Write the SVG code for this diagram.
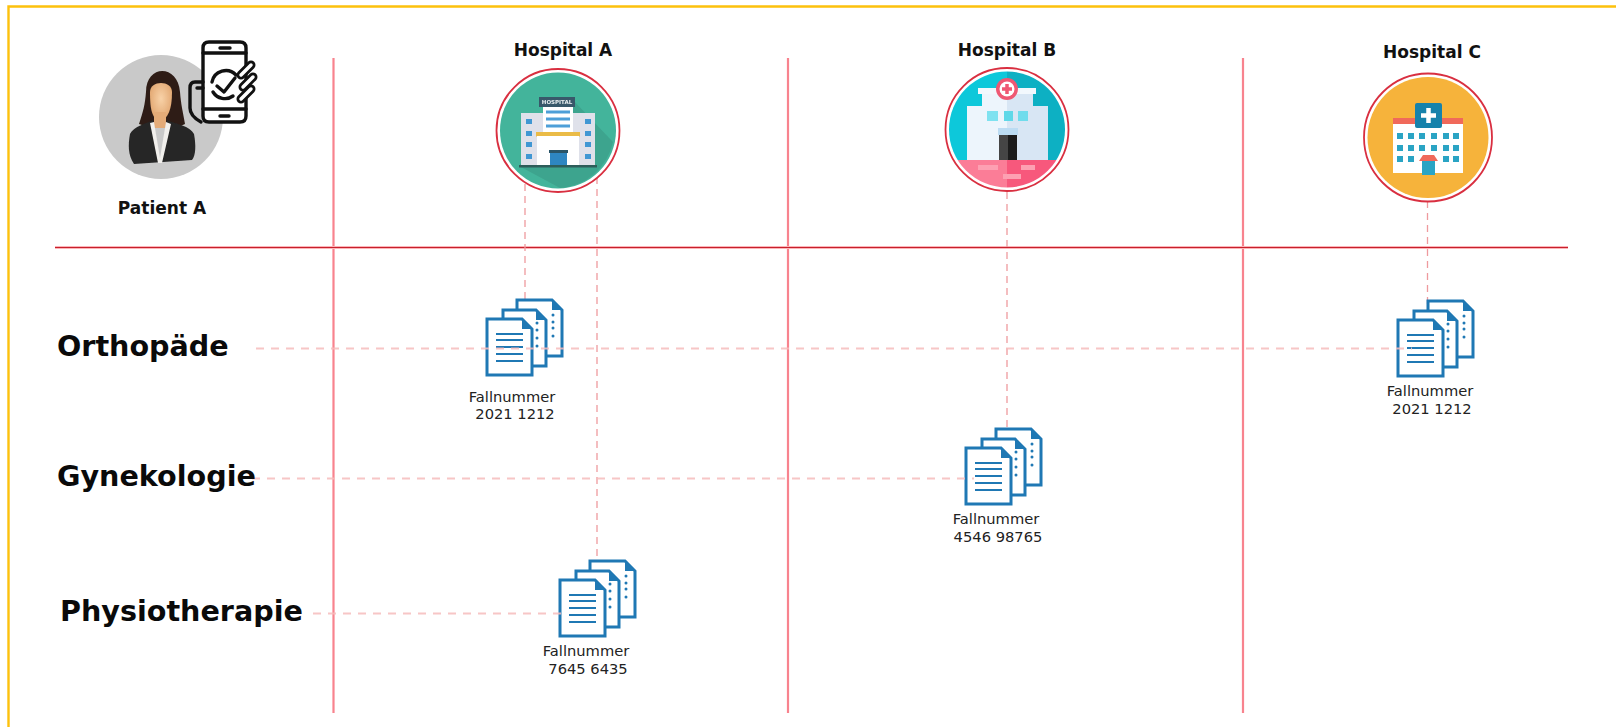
<svg xmlns="http://www.w3.org/2000/svg" width="1616" height="727" viewBox="0 0 1616 727">
<style>
.grid{stroke:#f8838e;stroke-width:2.200;fill:none}
.halo{stroke:#fbb4b8;stroke-width:3;fill:none}
.hgrid{stroke:#c8202c;stroke-width:1.2;fill:none}
.dash{stroke:#f6bcbc;stroke-width:2;stroke-dasharray:8 7;fill:none}
.dashv{stroke:#ee9a9e;stroke-width:1.3;stroke-dasharray:7 5;fill:none}
.ring{fill:#fff;stroke:#d92f40;stroke-width:1.8}
.hd{font:bold 17px "DejaVu Sans",sans-serif;fill:#111;text-anchor:middle}
.cat{font:bold 28.600px "DejaVu Sans",sans-serif;fill:#0a0a0a}
.fn{font:14.700px "DejaVu Sans",sans-serif;fill:#222;text-anchor:middle}
.pg{fill:#fff;stroke:#1f78b4;stroke-width:3}
.ln{stroke:#1f78b4;stroke-width:2.200}
.dot{fill:#1f78b4}
.ph{fill:none;stroke:#111;stroke-width:3.400;stroke-linejoin:round;stroke-linecap:round}
</style>
<defs>
<filter id="soft" x="-5%" y="-5%" width="110%" height="110%"><feGaussianBlur stdDeviation="0.6"/></filter>
<radialGradient id="face" cx="50%" cy="40%" r="60%"><stop offset="0" stop-color="#f8d2a8"/><stop offset="1" stop-color="#e0a36c"/></radialGradient>
<g id="doc">
<path class="pg" d="M31 -17H66L76 -7V39H31Z"/>
<path d="M66 -17L76 -7H66Z" class="dot"/>
<circle cx="67" cy="-2" r="1.500" class="dot"/><circle cx="67" cy="5" r="1.500" class="dot"/><circle cx="67" cy="11" r="1.500" class="dot"/><circle cx="67" cy="19" r="1.500" class="dot"/>
<path class="pg" d="M17 -7H50L60 3V49H17Z"/>
<path d="M50 -7L60 3H50Z" class="dot"/>
<circle cx="51" cy="6" r="1.500" class="dot"/><circle cx="51" cy="13" r="1.500" class="dot"/><circle cx="51" cy="21" r="1.500" class="dot"/><circle cx="51" cy="29" r="1.500" class="dot"/>
<path class="pg" d="M1 2H36L46 12V58H1Z"/>
<path d="M36 2L46 12H36Z" class="dot"/>
<path class="ln" d="M10 17H37M10 23H37M10 30H37M10 37H37M10 44H37"/>
</g>
</defs>
<rect width="1616" height="727" fill="#fff"/>
<path d="M8.500 727V6.500H1616" fill="none" stroke="#fdc10d" stroke-width="2.400"/>

<g id="connectors">
<path class="grid" d="M333.500 58V713M788 58V713M1243 58V713"/>
<path class="halo" d="M55 247.500H1568"/>
<path class="hgrid" d="M55 247.500H1568"/>
<path class="dashv" d="M525 184V309M597 177V567M1007 192V433M1427.500 201V309"/>
</g>

<g id="patient">
<circle cx="161" cy="117" r="62" fill="#c9c9c9"/>
<g filter="url(#soft)">
<path d="M146 92C146 64 178 64 180 92C181 105 183 112 185 124L176 128H150L139 124C143 112 145 105 146 92Z" fill="#2e1d17"/>
<path d="M150 92C150 80 172 80 172 92C172 110 168 118 160 122C152 118 150 110 150 92Z" fill="url(#face)"/>
<path d="M154 112H166V128H154Z" fill="#e4ab78"/>
<path d="M130 134C134 126 146 124 153 120L160 163L167 120C176 124 190 126 194 134C196 145 196 155 192 160L134 164C128 155 128 145 130 134Z" fill="#262626"/>
<path d="M150 123L154 122L160 158L166 122L171 124L162 163H158Z" fill="#f1efec"/>
</g>
<path class="ph" d="M209 42H240Q246 42 246 48V116Q246 122 240 122H209Q203 122 203 116V48Q203 42 209 42Z" style="fill:#fff"/>
<path class="ph" d="M203 53H246M203 109H246" stroke-width="2.600"/>
<path class="ph" d="M220 48H230M220 116H229" stroke-width="2.400"/>
<path class="ph" d="M203 82H195Q190 82 190 88V108Q190 116 201 122M203 88H197" stroke-width="2.800"/>
<path class="ph" d="M236 75A14 14 0 0 0 212 82M213 92A14 14 0 0 0 233 96" stroke-width="2.400"/>
<path class="ph" d="M217 86L224 92L235 78" stroke-width="2.800"/>
<path d="M241 75L251 65M243 87L253 77M241 99L251 89" stroke="#111" stroke-width="9" stroke-linecap="round"/>
<path d="M241 75L251 65M243 87L253 77M241 99L251 89" stroke="#fff" stroke-width="3.500" stroke-linecap="round"/>
<text x="162" y="214" class="hd">Patient A</text>
</g>

<g id="hospital-a">
<text x="563" y="56" class="hd">Hospital A</text>
<circle cx="558" cy="130.500" r="61.500" class="ring"/>
<circle cx="558" cy="130.500" r="58" fill="#43b49b"/>
<g filter="url(#soft)">
<path d="M573 100L613 142A58 58 0 0 1 560 188L519 166Z" fill="#3ea48e"/>
<rect x="539" y="97" width="36" height="10" fill="#38596a"/>
<rect x="521" y="113" width="74" height="52" fill="#dfe1ea"/>
<rect x="543" y="107" width="30" height="26" fill="#fff"/>
<path d="M546 112H570M546 119H570M546 126H570" stroke="#4d9fd8" stroke-width="3"/>
<rect x="536" y="132" width="44" height="4.500" fill="#eabb47"/>
<rect x="537" y="136" width="42" height="29" fill="#fff"/>
<rect x="550" y="152" width="17" height="13" fill="#2e86c1"/>
<rect x="549" y="150" width="19" height="3" fill="#2b5568"/>
<path d="M526 119h6v5h-6zM526 131h6v5h-6zM526 142h6v5h-6zM526 154h6v5h-6zM585 119h6v5h-6zM585 131h6v5h-6zM585 142h6v5h-6zM585 154h6v5h-6z" fill="#3f97d3"/>
<rect x="519" y="165" width="78" height="2.500" fill="#2e5d5a"/>
<text x="557" y="104" font-family="DejaVu Sans,sans-serif" font-size="5.500" font-weight="700" fill="#e8eef0" text-anchor="middle">HOSPITAL</text>
</g>
</g>

<g id="hospital-b">
<text x="1007" y="56" class="hd">Hospital B</text>
<circle cx="1007" cy="129.500" r="61.500" class="ring"/>
<clipPath id="cb"><circle cx="1007" cy="129.500" r="58"/></clipPath>
<g clip-path="url(#cb)">
<g filter="url(#soft)">
<rect x="945" y="68" width="124" height="124" fill="#0cc8da"/>
<rect x="1007" y="68" width="62" height="100" fill="#0db0c3"/>
<path d="M967 160V106H982V92H1033V106H1048V160Z" fill="#edf5fc"/>
<path d="M1007 160V92H1033V106H1048V160Z" fill="#d8e6f4"/>
<rect x="978" y="88" width="58" height="6" fill="#f2f8fd"/>
<rect x="987" y="111" width="11" height="10" fill="#7fe2f0"/><rect x="1004" y="111" width="9" height="10" fill="#5fd8e8"/><rect x="1018" y="111" width="10" height="10" fill="#6fdcec"/>
<rect x="998" y="128" width="20" height="7" fill="#bcdcf3"/>
<rect x="999" y="135" width="9" height="25" fill="#444"/><rect x="1008" y="135" width="9" height="25" fill="#1e1e1e"/>
<rect x="945" y="160" width="62" height="32" fill="#fb7d97"/><rect x="1007" y="160" width="62" height="32" fill="#f7587b"/>
<path d="M978 165h20v5h-20zM1021 165h14v5h-14zM1003 174h18v5h-18z" fill="#fda0b2"/>
</g>
</g>
<circle cx="1007" cy="89" r="11" fill="#ef5873"/><circle cx="1007" cy="89" r="7.500" fill="#fff"/>
<path d="M1007 84V94M1002 89H1012" stroke="#ef5873" stroke-width="3.500"/>
</g>

<g id="hospital-c">
<text x="1432" y="58" class="hd">Hospital C</text>
<circle cx="1428" cy="137.500" r="64" class="ring"/>
<circle cx="1428" cy="137.500" r="60.500" fill="#f6b33b"/>
<g filter="url(#soft)">
<rect x="1393" y="118" width="70" height="6" fill="#f0695a"/>
<rect x="1393" y="124" width="70" height="49" fill="#fff"/>
<rect x="1415" y="103" width="27" height="25" rx="2" fill="#1682ab"/>
<path d="M1428.500 108V123M1421 115.500H1436" stroke="#fff" stroke-width="4.500"/>
<g fill="#2aa4c4">
<path d="M1397 133h6v6h-6zM1408 133h6v6h-6zM1419 133h6v6h-6zM1431 133h6v6h-6zM1443 133h6v6h-6zM1453 133h6v6h-6z"/>
<path d="M1397 145h6v6h-6zM1408 145h6v6h-6zM1419 145h6v6h-6zM1431 145h6v6h-6zM1443 145h6v6h-6zM1453 145h6v6h-6z"/>
<path d="M1397 156h6v6h-6zM1408 156h6v6h-6zM1443 156h6v6h-6zM1453 156h6v6h-6z"/>
<rect x="1422" y="161" width="13" height="14"/>
</g>
<path d="M1419 161L1423 155H1434L1438 161Z" fill="#f0695a"/>
</g>
</g>

<g id="case-a1"><use href="#doc" x="486" y="317"/><text x="512" y="402" class="fn">Fallnummer</text><text x="515" y="419" class="fn">2021 1212</text></g>
<g id="case-c1"><use href="#doc" x="1397" y="318"/><text x="1430" y="396" class="fn">Fallnummer</text><text x="1432" y="414" class="fn">2021 1212</text></g>
<g id="case-b1"><use href="#doc" x="965" y="446"/><text x="996" y="524" class="fn">Fallnummer</text><text x="998" y="542" class="fn">4546 98765</text></g>
<g id="case-a2"><use href="#doc" x="559" y="578"/><text x="586" y="656" class="fn">Fallnummer</text><text x="588" y="674" class="fn">7645 6435</text></g>

<g id="dash-lines" opacity="0.85">
<path class="dash" d="M256 348.500H1412M252 478.500H974M313 613.500H562"/>
</g>

<g id="orthopaede"><text x="57" y="356" class="cat">Orthopäde</text></g>
<g id="gynekologie"><text x="57" y="486" class="cat">Gynekologie</text></g>
<g id="physiotherapie"><text x="60" y="621" class="cat">Physiotherapie</text></g>
</svg>
